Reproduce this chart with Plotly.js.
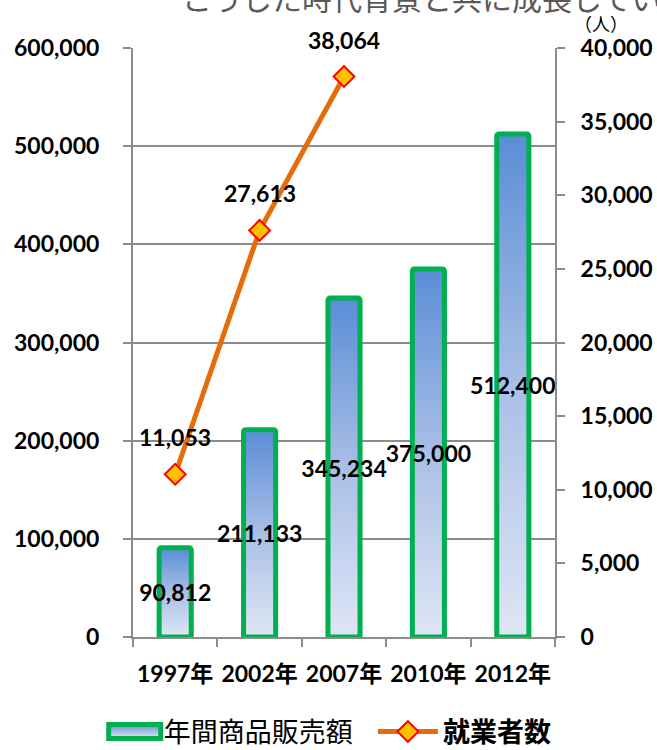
<!DOCTYPE html>
<html>
<head>
<meta charset="utf-8">
<script src="https://cdn.plot.ly/plotly-3.0.1.min.js"></script>
<style>
html,body{margin:0;padding:0;background:#fff;}
#chart{width:657px;height:750px;}
</style>
</head>
<body>
<div id="chart"></div>
<script>
const years = ["1997年", "2002年", "2007年", "2010年", "2012年"];
const salesValues = [90812, 211133, 345234, 375000, 512400];
const workerYears = ["1997年", "2002年", "2007年"];
const workerValues = [11053, 27613, 38064];
const salesName = "年間商品販売額";
const workerName = "<b>就業者数</b>";
const titleText = "こうした時代背景と共に成長している";
const unitText = "（人）";

const numFont = {family: "Lato, 'Noto Sans CJK JP', sans-serif", size: 23, color: "#000"};
const gray = "#8c8c8c";

function fmt(v){ return v.toLocaleString("en-US"); }

const traces = [
  {
    type: "bar",
    x: years,
    y: salesValues,
    name: salesName,
    legend: "legend",
    marker: {color: "#9db5e4", line: {color: "#00b050", width: 5}, cornerradius: 2},
    texttemplate: "<b>%{y:,}</b>",
    textposition: "inside",
    insidetextanchor: "middle",
    constraintext: "none",
    textangle: 0,
    textfont: numFont,
    cliponaxis: false,
    hoverinfo: "skip"
  },
  {
    type: "scatter",
    mode: "lines+markers",
    x: workerYears,
    y: workerValues,
    yaxis: "y2",
    name: workerName,
    legend: "legend2",
    line: {color: "#e46c0a", width: 5},
    marker: {symbol: "diamond", size: 16, color: "#ffc000", line: {color: "#ff0000", width: 2}},
    cliponaxis: false,
    hoverinfo: "skip"
  }
];

const annotations = workerYears.map((yr, i) => ({
  x: yr, y: workerValues[i], xref: "x", yref: "y2",
  text: "<b>" + fmt(workerValues[i]) + "</b>",
  showarrow: false, yshift: 37, font: numFont
}));
annotations.push({
  xref: "paper", yref: "paper", x: 0.111, y: 1.086, xanchor: "left", yanchor: "middle",
  text: titleText, showarrow: false,
  font: {family: "'Noto Sans CJK JP', sans-serif", size: 30, color: "#595959"}
});
annotations.push({
  xref: "paper", yref: "paper", x: 1.109, y: 1.0424, xanchor: "center", yanchor: "middle",
  text: unitText, showarrow: false,
  font: {family: "'Noto Sans CJK JP', sans-serif", size: 18, color: "#000"}
});

const tickFontB = {family: "Lato, 'Noto Sans CJK JP', sans-serif", size: 23, color: "#000", weight: "bold"};
const legFont = {family: "'Noto Sans CJK JP', sans-serif", size: 27, color: "#000"};

const layout = {
  width: 657, height: 750,
  margin: {l: 133, r: 102, t: 48, b: 113},
  paper_bgcolor: "#fff", plot_bgcolor: "#fff",
  bargap: 0.62,
  showlegend: true,
  legend: {
    orientation: "h", xref: "container", yref: "container",
    x: 0.1426, xanchor: "left", y: 0.024, yanchor: "middle",
    font: legFont, itemwidth: 60
  },
  legend2: {
    orientation: "h", xref: "container", yref: "container",
    x: 0.5676, xanchor: "left", y: 0.024, yanchor: "middle",
    font: legFont, itemwidth: 60
  },
  xaxis: {
    type: "category", tickson: "boundaries", ticks: "outside", ticklen: 8, tickwidth: 2,
    tickcolor: gray, showline: true, linecolor: gray, linewidth: 2, showgrid: false,
    tickfont: tickFontB, tickangle: 0, ticklabelstandoff: 15, fixedrange: true
  },
  yaxis: {
    range: [0, 600000], dtick: 100000, tickformat: ",", showgrid: true, gridcolor: gray, gridwidth: 2,
    showline: true, linecolor: gray, linewidth: 2, ticks: "outside", ticklen: 8, tickwidth: 2, tickcolor: gray,
    zeroline: false, tickfont: tickFontB, ticklabelstandoff: 19, fixedrange: true
  },
  yaxis2: {
    overlaying: "y", side: "right", range: [0, 40000], dtick: 5000, tickformat: ",", showgrid: false,
    showline: true, linecolor: gray, linewidth: 2, ticks: "outside", ticklen: 8, tickwidth: 2, tickcolor: gray,
    zeroline: false, tickfont: tickFontB, ticklabelstandoff: 11, fixedrange: true
  },
  annotations: annotations
};

Plotly.newPlot("chart", traces, layout, {staticPlot: true}).then(gd => {
  const svg = gd.querySelector("svg.main-svg");
  const ns = "http://www.w3.org/2000/svg";
  let defs = svg.querySelector("defs");
  if (!defs) { defs = document.createElementNS(ns, "defs"); svg.insertBefore(defs, svg.firstChild); }
  const grad = document.createElementNS(ns, "linearGradient");
  grad.setAttribute("id", "barGrad");
  grad.setAttribute("x1", "0"); grad.setAttribute("y1", "0");
  grad.setAttribute("x2", "0"); grad.setAttribute("y2", "1");
  [["0", "#5a8dd6"], ["0.5", "#a9bfe6"], ["1", "#dfe6f5"]].forEach(([o, c]) => {
    const s = document.createElementNS(ns, "stop");
    s.setAttribute("offset", o); s.setAttribute("stop-color", c);
    grad.appendChild(s);
  });
  defs.appendChild(grad);
  gd.querySelectorAll(".bars .point path").forEach(p => { p.style.fill = "url(#barGrad)"; });
  const firstLeg = gd.querySelector("g.legend");
  if (firstLeg) {
    const lp = firstLeg.querySelector(".traces .legendpoints path");
    if (lp) {
      lp.setAttribute("d", "M-20,7H32V-7H-20Z");
      lp.style.fill = "url(#barGrad)";
      lp.style.strokeWidth = "5px";
    }
  }
});
</script>
</body>
</html>
